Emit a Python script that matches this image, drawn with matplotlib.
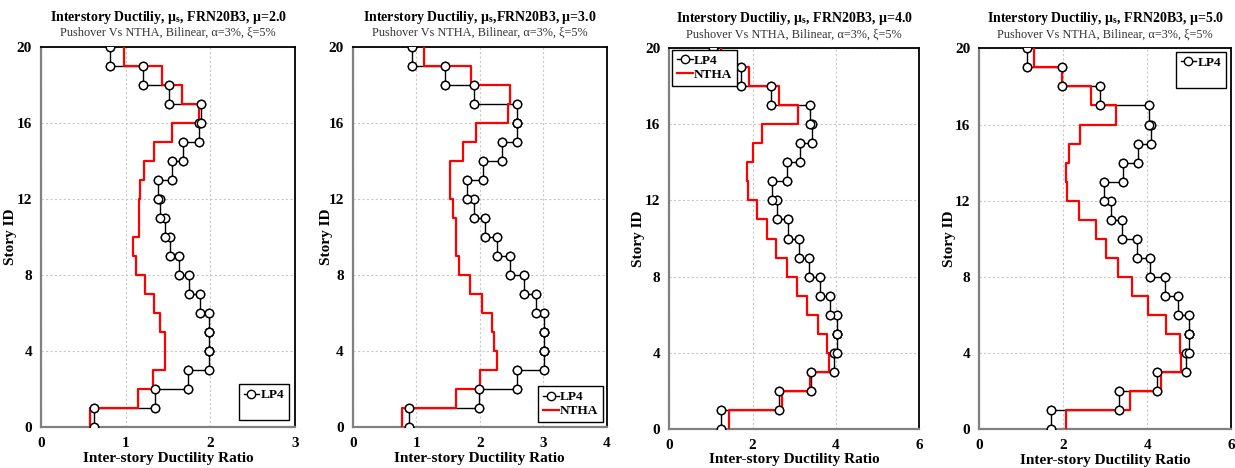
import numpy as np
import matplotlib
matplotlib.use('Agg')
import matplotlib.pyplot as plt
from matplotlib.lines import Line2D

plt.rcParams['font.family'] = 'Liberation Serif'
plt.rcParams['mathtext.fontset'] = 'stix'

## story 1..20, value of each story (step drawn from story-1 to story)
stories = np.arange(1, 21)

lp4_mu2 = [0.63, 1.35, 1.74, 1.99, 1.99, 1.98, 1.88, 1.75, 1.63, 1.52,
           1.47, 1.41, 1.38, 1.55, 1.68, 1.87, 1.89, 1.51, 1.21, 0.81]
ntha_mu2 = [0.58, 1.14, 1.32, 1.47, 1.47, 1.41, 1.33, 1.23, 1.12, 1.09,
            1.16, 1.16, 1.17, 1.22, 1.34, 1.55, 1.87, 1.67, 1.43, 0.98]

lp4_mu3 = [0.89, 1.99, 2.58, 3.01, 3.01, 3.01, 2.88, 2.69, 2.48, 2.28,
           2.09, 1.91, 1.80, 2.05, 2.35, 2.59, 2.59, 1.91, 1.45, 0.93]
ntha_mu3 = [0.77, 1.62, 2.01, 2.27, 2.23, 2.19, 2.04, 1.85, 1.68, 1.62,
            1.62, 1.58, 1.54, 1.54, 1.73, 1.94, 2.44, 2.48, 1.86, 1.12]

lp4_mu4 = [1.25, 2.64, 3.39, 3.96, 4.02, 4.02, 3.86, 3.62, 3.35, 3.11,
           2.84, 2.58, 2.46, 2.82, 3.14, 3.42, 3.38, 2.43, 1.72, 1.06]
ntha_mu4 = [1.43, 2.71, 3.38, 3.83, 3.78, 3.58, 3.30, 3.06, 2.82, 2.55,
            2.34, 2.11, 1.90, 1.86, 2.02, 2.23, 3.10, 2.64, 1.92, 1.23]

lp4_mu5 = [1.72, 3.34, 4.23, 4.92, 4.99, 4.99, 4.74, 4.42, 4.06, 3.75,
           3.41, 3.13, 2.97, 3.43, 3.79, 4.10, 4.04, 2.87, 1.96, 1.14]
ntha_mu5 = [2.06, 3.59, 4.33, 4.82, 4.78, 4.46, 4.02, 3.65, 3.31, 3.03,
            2.77, 2.38, 2.08, 2.06, 2.14, 2.40, 3.25, 2.67, 1.96, 1.30]

titles = ['Interstory Ductiliy, \u03bc$_\\mathregular{s}$, FRN20B3, \u03bc=2.0',
          'Interstory Ductiliy, \u03bc$_\\mathregular{s}$,FRN20B3, \u03bc=3.0',
          'Interstory Ductiliy, \u03bc$_\\mathregular{s}$, FRN20B3, \u03bc=4.0',
          'Interstory Ductiliy, \u03bc$_\\mathregular{s}$, FRN20B3, \u03bc=5.0']
subtitle = 'Pushover Vs NTHA, Bilinear, \u03b1=3%, \u03be=5%'
xlims = [3, 4, 6, 6]
xticks = [[0, 1, 2, 3], [0, 1, 2, 3, 4], [0, 2, 4, 6], [0, 2, 4, 6]]
lp4_all = [lp4_mu2, lp4_mu3, lp4_mu4, lp4_mu5]
ntha_all = [ntha_mu2, ntha_mu3, ntha_mu4, ntha_mu5]


def steps(vals):
    x = np.repeat(vals, 2)
    y = np.column_stack([stories - 1, stories]).ravel()
    return x, y


W, H = 1235, 468
fig = plt.figure(figsize=(W / 100, H / 100), dpi=100)

## axes boxes in pixels: left, right, top, bottom
boxes = [(41, 295, 46.7, 427.3), (352.7, 606.7, 46.7, 427.3),
         (669.3, 919.3, 48, 429), (979.3, 1231, 48.3, 429.3)]
ylab_x = [-0.093, -0.078, -0.097, -0.093]
## legend: loc, anchor, show NTHA entry
legs = [('lower right', (0.976, 0.019), False),
        ('lower right', (0.985, 0.014), True),
        ('upper left', (0.011, 0.995), True),
        ('upper right', (0.98, 0.99), False)]

for k in range(4):
    l, r, t, b = boxes[k]
    ax = fig.add_axes([l / W, (H - b) / H, (r - l) / W, (b - t) / H])
    xl, yl = steps(lp4_all[k])
    xn, yn = steps(ntha_all[k])
    h1, = ax.plot(xl, yl, color='black', lw=1.0, marker='o', ms=6,
                  mfc='white', mec='black', mew=1.0, zorder=3, label='LP4')
    h2, = ax.plot(xn, yn, color='red', lw=1.6, zorder=4, label='NTHA')
    ax.plot(xl, yl, ls='none', marker='o', ms=6, mfc='white',
            mec='black', mew=1.0, zorder=5)

    ax.set_xlim(0, xlims[k])
    ax.set_ylim(0, 20)
    ax.set_xticks(xticks[k])
    ax.set_yticks([0, 4, 8, 12, 16, 20])
    ax.grid(True, color='#c8c8c8', linestyle=(0, (2, 2)), linewidth=0.8)
    ax.tick_params(length=0, labelsize=11)
    ax.tick_params(axis='y', pad=6.5)
    ax.tick_params(axis='x', pad=7)
    for lab in ax.get_xticklabels() + ax.get_yticklabels():
        lab.set_fontweight('bold')
    for s in ['left', 'bottom']:
        ax.spines[s].set_color('#808080')
        ax.spines[s].set_linewidth(1.6)
    for s in ['top', 'right']:
        ax.spines[s].set_color('black')
        ax.spines[s].set_linewidth(1.3)

    ax.set_xlabel('Inter-story Ductility Ratio', fontsize=11, fontweight='bold')
    ax.xaxis.set_label_coords(0.5, -0.064)
    ax.set_ylabel('Story ID', fontsize=11, fontweight='bold')
    ax.yaxis.set_label_coords(ylab_x[k], 0.5)

    ax.text(0.5, 1.078, titles[k], transform=ax.transAxes, ha='center',
            va='center', fontsize=10, fontweight='bold')
    ax.text(0.5, 1.036, subtitle, transform=ax.transAxes, ha='center',
            va='center', fontsize=8.8, color='#333333')

    loc, anchor, both = legs[k]
    if both:
        hs, ls = [h1, h2], ['LP4', 'NTHA']
    else:
        hs, ls = [h1, Line2D([], [], color='none')], ['LP4', ' ']
    leg = ax.legend(hs, ls, loc=loc, bbox_to_anchor=anchor, borderaxespad=0,
                    fancybox=False, framealpha=1, edgecolor='black',
                    handlelength=1.2, handletextpad=0.1, borderpad=0.35,
                    labelspacing=0.15, prop={'weight': 'bold', 'size': 9.5})
    leg.get_frame().set_linewidth(1.0)
    leg.set_zorder(10)

fig.savefig('out.png', dpi=100)
